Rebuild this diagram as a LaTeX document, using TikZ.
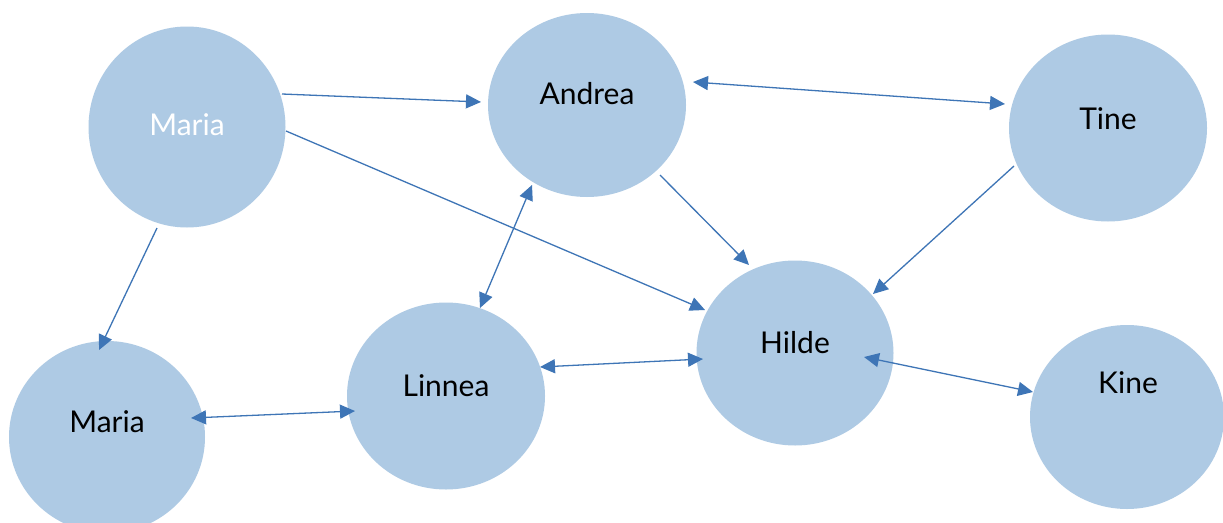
\documentclass[tikz,border=0pt]{standalone}
\usepackage{fontspec}
\setmainfont{Lato}
\usetikzlibrary{shapes.geometric,arrows.meta,calc}
\definecolor{bubble}{RGB}{174,202,228}
\definecolor{linkblue}{RGB}{62,117,182}
\begin{document}
\begin{tikzpicture}[x=1pt,y=-1pt,
  personbubble/.style={ellipse,fill=bubble,draw=none,inner sep=0pt},
  personname/.style={anchor=base,font=\fontsize{30}{36}\selectfont,text=black,inner sep=0pt},
  onewaylink/.style={draw=linkblue,line width=1.3pt,-{Triangle[length=15pt,width=14pt]}},
  twowaylink/.style={draw=linkblue,line width=1.3pt,{Triangle[length=15pt,width=14pt]}-{Triangle[length=15pt,width=14pt]}}]
  \useasboundingbox[fill=white] (0,0) rectangle (1223,522);

  % the seven people
  \node[personbubble,minimum width=197pt,minimum height=201pt] (mt) at (187,127) {};
  \node[personbubble,minimum width=198pt,minimum height=184pt] (an) at (587,105) {};
  \node[personbubble,minimum width=198pt,minimum height=187pt] (ti) at (1108,128) {};
  \node[personbubble,minimum width=197pt,minimum height=185pt] (hi) at (795,353) {};
  \node[personbubble,minimum width=194pt,minimum height=184pt] (ki) at (1127,417) {};
  \node[personbubble,minimum width=198pt,minimum height=187pt] (li) at (446,396) {};
  \node[personbubble,minimum width=196pt,minimum height=192pt] (mb) at (107,437) {};

  % names
  \node[personname,text=white] (tmt) at (187,135) {Maria};
  \node[personname] (tan) at (587,104) {Andrea};
  \node[personname] (tti) at (1108,129) {Tine};
  \node[personname] (thi) at (795,353) {Hilde};
  \node[personname] (tki) at (1128,393) {Kine};
  \node[personname] (tli) at (446,396) {Linnea};
  \node[personname] (tmb) at (107,432) {Maria};

  % connector ends
  \coordinate (mt1) at ($(mt)+(95,-33)$);
  \coordinate (an1) at ($(an)+(-106,-3)$);
  \coordinate (mt2) at ($(mt)+(99,4)$);
  \coordinate (hi2) at ($(hi)+(-90,-43)$);
  \coordinate (mt3) at ($(mt)+(-30,101)$);
  \coordinate (mb3) at ($(mb)+(-8,-87)$);
  \coordinate (an4) at ($(an)+(106,-23)$);
  \coordinate (ti4) at ($(ti)+(-103,-24)$);
  \coordinate (an5) at ($(an)+(73,70)$);
  \coordinate (hi5) at ($(hi)+(-46,-88)$);
  \coordinate (ti6) at ($(ti)+(-94,38)$);
  \coordinate (hi6) at ($(hi)+(78,-59)$);
  \coordinate (an7) at ($(an)+(-55,80)$);
  \coordinate (li7) at ($(li)+(34,-88)$);
  \coordinate (li8) at ($(li)+(94,-29)$);
  \coordinate (hi8) at ($(hi)+(-92,6)$);
  \coordinate (mb9) at ($(mb)+(84,-19)$);
  \coordinate (li9) at ($(li)+(-91,15)$);
  \coordinate (hi10) at ($(hi)+(69,4)$);
  \coordinate (ki10) at ($(ki)+(-94,-25)$);

  % relations
  \draw[onewaylink] (mt1) -- (an1);
  \draw[onewaylink] (mt2) -- (hi2);
  \draw[onewaylink] (mt3) -- (mb3);
  \draw[twowaylink] (an4) -- (ti4);
  \draw[onewaylink] (an5) -- (hi5);
  \draw[onewaylink] (ti6) -- (hi6);
  \draw[twowaylink] (an7) -- (li7);
  \draw[twowaylink] (li8) -- (hi8);
  \draw[twowaylink] (mb9) -- (li9);
  \draw[twowaylink] (hi10) -- (ki10);
\end{tikzpicture}
\end{document}
